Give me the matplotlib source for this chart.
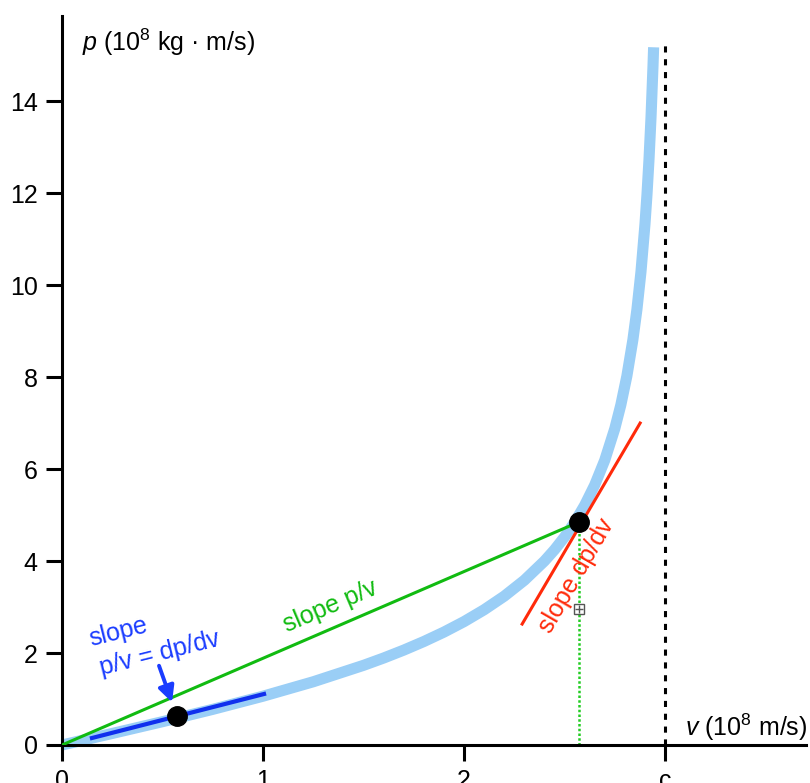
import matplotlib.pyplot as plt

plt.rcParams['font.family'] = ['Liberation Sans', 'DejaVu Sans']
plt.rcParams['mathtext.fontset'] = 'custom'
plt.rcParams['mathtext.rm'] = 'Liberation Sans'
plt.rcParams['mathtext.it'] = 'Liberation Sans:italic'

# momentum curve (v in 1e8 m/s, p in 1e8 kg m/s)
v_curve = [0, 0.25, 0.5, 0.75, 1.0, 1.25, 1.5, 1.6, 1.7, 1.8, 1.9, 2.0,
           2.1, 2.2, 2.3, 2.4, 2.45, 2.5, 2.55, 2.6, 2.65, 2.7, 2.75, 2.78,
           2.81, 2.84, 2.86, 2.88, 2.9, 2.91, 2.92, 2.93, 2.94, 2.943]
p_curve = [0, 0.251, 0.507, 0.775, 1.061, 1.375, 1.732, 1.891, 2.063, 2.25,
           2.455, 2.683, 2.941, 3.236, 3.582, 4.0, 4.245, 4.523, 4.84, 5.212,
           5.653, 6.194, 6.881, 7.396, 8.023, 8.814, 9.472, 10.286, 11.326,
           11.97, 12.73, 13.643, 14.774, 15.17]

# marked points
v_dots = [0.572, 2.572]
p_dots = [0.63, 4.85]

# tangent / secant segments
v_blue = [0.149, 1.005]
p_blue = [0.152, 1.109]
v_green = [0, 2.572]
p_green = [0, 4.85]
v_red = [2.289, 2.876]
p_red = [2.63, 7.0]

c_speed = 3.0
x_ticks = [0, 1, 2, 3]
x_ticklabels = ['0', '1', '2', 'c']
y_ticks = [0, 2, 4, 6, 8, 10, 12, 14]

fig = plt.figure(figsize=(8.1, 7.83), dpi=100)
ax = fig.add_axes([62 / 810, 38 / 783, 744 / 810, 729 / 783])

ax.plot(v_curve, p_curve, color='#9acef6', lw=8, solid_capstyle='butt',
        solid_joinstyle='round', clip_on=False, zorder=1)
ax.plot([c_speed, c_speed], [0, 15.3], color='black', lw=2.2,
        dashes=(2, 2.2), clip_on=False, zorder=2)
ax.plot([v_dots[1], v_dots[1]], [0, p_dots[1]], color='#22cc22', lw=1.8,
        linestyle=(0, (1, 0.9)), zorder=2)
ax.plot(v_green, p_green, color='#11bb11', lw=2.2, zorder=3)
ax.plot(v_red, p_red, color='#ff2a0a', lw=2.2, zorder=3)
ax.plot(v_blue, p_blue, color='#1030ee', lw=3, zorder=3)
ax.plot(v_dots, p_dots, 'o', color='black', ms=14, zorder=5)

# small boxed-plus marker below the upper point
ax.plot([v_dots[1]], [2.96], marker='s', ms=7, mfc='white', mec='#555555',
        mew=1, zorder=4)
ax.plot([v_dots[1]], [2.96], marker='+', ms=6, color='#555555', mew=1,
        zorder=4)

# annotations
ax.annotate('', xy=(0.552, 0.87), xytext=(0.478, 1.78),
            arrowprops=dict(arrowstyle='-|>', color='#1a3cff', lw=2.8,
                            mutation_scale=24))
ax.text(0.279, 2.46, 'slope', color='#1a3cff', fontsize=18, rotation=14,
        ha='center', va='center', rotation_mode='anchor')
ax.text(0.488, 2.0, 'p/v = dp/dv', color='#1a3cff', fontsize=18, rotation=14,
        ha='center', va='center', rotation_mode='anchor')
ax.text(1.333, 3.02, 'slope p/v', color='#11bb11', fontsize=18, rotation=23,
        ha='center', va='center', rotation_mode='anchor')
ax.text(2.557, 3.67, 'slope dp/dv', color='#ff2a0a', fontsize=18, rotation=60,
        ha='center', va='center', rotation_mode='anchor')

# axis labels inside the plot
ax.text(0.1, 15.28, r'$p$ (10$^8$ kg · m/s)', fontsize=18, ha='left',
        va='center')
ax.text(3.10, 0.39, r'$v$ (10$^8$ m/s)', fontsize=18, ha='left', va='center')

ax.set_xlim(0, 3.701)
ax.set_ylim(0, 15.85)
ax.set_xticks(x_ticks)
ax.set_xticklabels(x_ticklabels)
ax.set_yticks(y_ticks)
ax.tick_params(direction='out', length=11.5, width=2.2, labelsize=18, pad=6)
for side in ['top', 'right']:
    ax.spines[side].set_visible(False)
for side in ['left', 'bottom']:
    ax.spines[side].set_linewidth(2.2)

fig.savefig('out.png', dpi=100)
